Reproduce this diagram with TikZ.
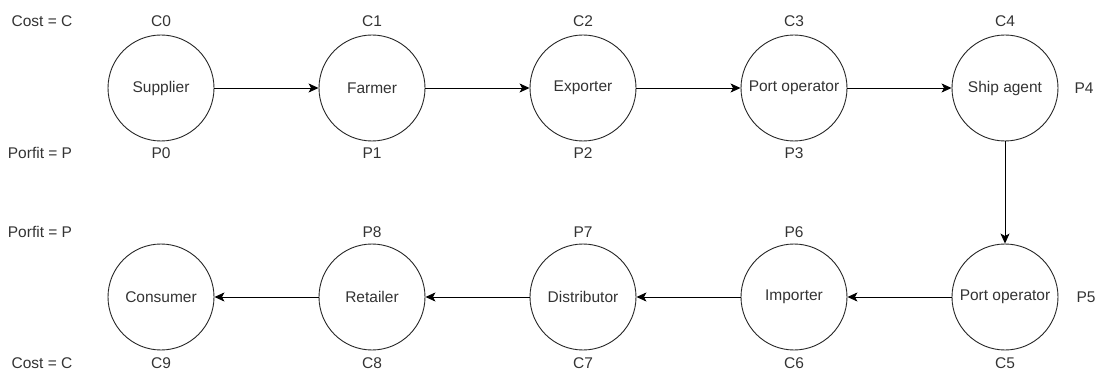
\documentclass[tikz,border=0pt]{standalone}
\usepackage{fontspec}
\setmainfont{Liberation Sans}
\usetikzlibrary{arrows.meta}

\begin{document}
\begin{tikzpicture}[auto,node distance=211pt, x=1pt, y=1pt, >={Stealth[length=10pt,width=9pt,inset=2.5pt]}]
				\tikzstyle{every node}=[font=\fontsize{15.5}{18}\selectfont, text=black!80]
				\tikzstyle{actor}=[circle, draw=black!85, line width=0.9pt, minimum size=106pt, inner sep=0pt]
				\tikzstyle{flow}=[->, line width=0.9pt]
				\useasboundingbox (0,0) rectangle (1104,-377);
				%First Row
				\node[actor](sup) at (161,-88){Supplier};
				\node[actor](far)[right of = sup]{Farmer};
				\node[actor](exp)[right of = far]{Exporter};
				\node[actor](pto)[right of = exp]{Port operator};
				\node[actor](shi)[right of = pto]{Ship agent};
				%Second Row
				\node[actor](ptd)[below of = shi, node distance=209pt]{Port operator};
				\node[actor](imp)[left of = ptd]{Importer};
				\node[actor](dis)[left of = imp]{Distributor};
				\node[actor](ret)[left of = dis]{Retailer};
				\node[actor](con)[left of = ret]{Consumer};
				%Costs and profits, first row
				\node(c0)[above of = sup, node distance=67pt]{C0};
				\node(c1)[above of = far, node distance=67pt]{C1};
				\node(c2)[above of = exp, node distance=67pt]{C2};
				\node(c3)[above of = pto, node distance=67pt]{C3};
				\node(c4)[above of = shi, node distance=67pt]{C4};
				\node(p0)[below of = sup, node distance=65pt]{P0};
				\node(p1)[below of = far, node distance=65pt]{P1};
				\node(p2)[below of = exp, node distance=65pt]{P2};
				\node(p3)[below of = pto, node distance=65pt]{P3};
				\node(p4)[right of = shi, node distance=79pt]{P4};
				%Costs and profits, second row
				\node(p5)[right of = ptd, node distance=81pt]{P5};
				\node(p6)[above of = imp, node distance=65pt]{P6};
				\node(p7)[above of = dis, node distance=65pt]{P7};
				\node(p8)[above of = ret, node distance=65pt]{P8};
				\node(c5)[below of = ptd, node distance=66pt]{C5};
				\node(c6)[below of = imp, node distance=66pt]{C6};
				\node(c7)[below of = dis, node distance=66pt]{C7};
				\node(c8)[below of = ret, node distance=66pt]{C8};
				\node(c9)[below of = con, node distance=66pt]{C9};
				%Legend
				\node(cost1)[left of = c0, node distance=119pt]{Cost = C};
				\node(prof1)[left of = p0, node distance=121pt]{Porfit = P};
				\node(prof2)[left of = p8, node distance=332pt]{Porfit = P};
				\node(cost2)[left of = c9, node distance=119pt]{Cost = C};
				%Chain
				\draw[flow] (sup) -- (far);
				\draw[flow] (far) -- (exp);
				\draw[flow] (exp) -- (pto);
				\draw[flow] (pto) -- (shi);
				\draw[flow] (shi) -- (ptd);
				\draw[flow] (ptd) -- (imp);
				\draw[flow] (imp) -- (dis);
				\draw[flow] (dis) -- (ret);
				\draw[flow] (ret) -- (con);
				\end{tikzpicture}
\end{document}
